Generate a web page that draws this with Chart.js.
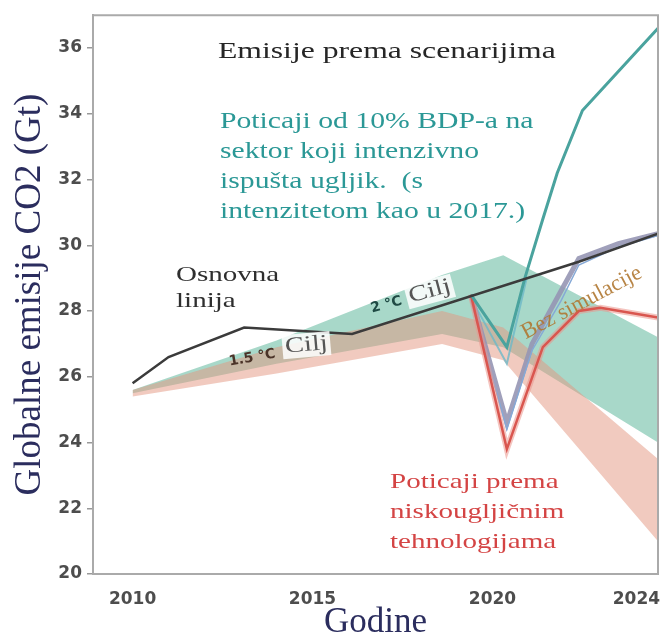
<!DOCTYPE html>
<html>
<head>
<meta charset="utf-8">
<script src="https://cdn.jsdelivr.net/npm/chart.js@4.4.1/dist/chart.umd.min.js"></script>
<style>
  html, body { margin: 0; padding: 0; background: #fff; }
  #wrap { width: 671px; height: 640px; }
</style>
</head>
<body>
<div id="wrap"><canvas id="chart"></canvas></div>
<script>
// vrijednosti (Gt CO2) procitane sa slike
var baseYears = [2010, 2011, 2013.1, 2016.1, 2022.4, 2024.6];
var baseVals = [25.8, 26.6, 27.5, 27.3, 29.5, 30.35];

var tealYears = [2019.4, 2020.4, 2020.9, 2021.4, 2021.8, 2022.5, 2024.6];
var tealVals = [28.5, 26.9, 29.0, 30.8, 32.2, 34.1, 36.6];
var tealLightYears = [2019.4, 2020.4, 2020.95];
var tealLightVals = [28.4, 26.4, 29.0];

var greyYears = [2019.4, 2020.4, 2021.1, 2021.9, 2022.4, 2023.5, 2024.6];
var greyVals = [28.5, 24.6, 27.0, 28.6, 29.6, 30.05, 30.35];
var blueVals = [28.4, 24.4, 26.8, 28.3, 29.4, 29.95, 30.3];

var redYears = [2019.4, 2020.4, 2021.4, 2022.4, 2023.0, 2024.6];
var redVals = [28.5, 23.8, 26.9, 28.0, 28.1, 27.8];

var bandYears = [2010, 2014, 2018.6, 2020.3, 2024.6];
var twoUpper = [25.6, 27.1, 29.1, 29.7, 27.2];
var twoLower = [25.5, 26.4, 27.3, 26.9, 24.0];
var onefiveUpper = [25.6, 26.9, 28.0, 27.5, 23.5];
var onefiveLower = [25.4, 26.1, 27.0, 26.5, 21.0];

var xTicks = [2010, 2015, 2020, 2024];
var yTicks = [20, 22, 24, 26, 28, 30, 32, 34, 36];

function pts(years, vals) {
    return years.map(function (y, i) { return {x: y, y: vals[i]}; });
}

var SERIF = '"Liberation Serif", "Times New Roman", serif';
var SX = 1.32;

function txt(ctx, s, x, y, o) {
    ctx.save();
    ctx.translate(x, y);
    ctx.rotate((o.rot || 0) * Math.PI / 180);
    ctx.scale(o.sx || 1, 1);
    ctx.font = o.font;
    ctx.textAlign = 'left';
    ctx.textBaseline = o.base || 'alphabetic';
    if (o.box) {
        var w = ctx.measureText(s).width;
        ctx.fillStyle = o.box;
        ctx.fillRect(-2, -o.h / 2, w + 4, o.h);
    }
    ctx.fillStyle = o.color;
    ctx.fillText(s, 0, 0);
    ctx.restore();
}

var notes = {
    id: 'notes',
    afterDatasetsDraw: function (chart) {
        var ctx = chart.ctx, a = chart.chartArea;
        // okvir
        ctx.save();
        ctx.strokeStyle = '#aaa';
        ctx.lineWidth = 2;
        ctx.beginPath();
        ctx.moveTo(a.left, a.top);
        ctx.lineTo(a.right, a.top);
        ctx.lineTo(a.right, a.bottom);
        ctx.stroke();
        ctx.restore();

        var f22 = '22px ' + SERIF;
        txt(ctx, 'Emisije prema scenarijima', 218, 58, {font: '24px ' + SERIF, color: '#262626', sx: SX});

        var teal = '#2b9896';
        txt(ctx, 'Poticaji od 10% BDP-a na', 220, 128, {font: '22.5px ' + SERIF, color: teal, sx: SX});
        txt(ctx, 'sektor koji intenzivno', 220, 158, {font: '22.5px ' + SERIF, color: teal, sx: SX});
        txt(ctx, 'ispušta ugljik.  (s', 220, 188, {font: '22.5px ' + SERIF, color: teal, sx: SX});
        txt(ctx, 'intenzitetom kao u 2017.)', 220, 218, {font: '22.5px ' + SERIF, color: teal, sx: SX});

        txt(ctx, 'Osnovna', 176, 281, {font: f22, color: '#2e2e2e', sx: SX});
        txt(ctx, 'linija', 176, 307, {font: f22, color: '#2e2e2e', sx: SX});

        var red = '#d44444';
        txt(ctx, 'Poticaji prema', 390, 488, {font: f22, color: red, sx: SX});
        txt(ctx, 'niskougljičnim', 390, 518, {font: f22, color: red, sx: SX});
        txt(ctx, 'tehnologijama', 390, 548, {font: f22, color: red, sx: SX});

        txt(ctx, '2 °C', 371, 309, {font: 'bold 14px "DejaVu Sans"', color: '#1f4a44', rot: -15, base: 'middle'});
        txt(ctx, 'Cilj', 409, 297, {font: '22px ' + SERIF, color: '#555', rot: -15, base: 'middle', sx: 1.3,
            box: 'rgba(255,255,255,0.85)', h: 24});
        txt(ctx, '1.5 °C', 229, 362, {font: 'bold 14px "DejaVu Sans"', color: '#4a3328', rot: -10, base: 'middle'});
        txt(ctx, 'Cilj', 285, 347, {font: '22px ' + SERIF, color: '#555', rot: -5, base: 'middle', sx: 1.3,
            box: 'rgba(255,255,255,0.85)', h: 24});

        txt(ctx, 'Bez simulacije', 523, 334, {font: '22.5px ' + SERIF, color: 'rgba(176,120,50,0.9)', rot: -28, base: 'middle'});
    }
};

var none = 'rgba(0,0,0,0)';
var tickFont = {family: 'DejaVu Sans', weight: 'bold', size: 17};

new Chart(document.getElementById('chart'), {
    type: 'line',
    data: {
        datasets: [
            {label: 'Osnovna linija', data: pts(baseYears, baseVals), borderColor: '#3b3b3b', borderWidth: 2.5},
            {label: 'Visokougljicni poticaji', data: pts(tealYears, tealVals), borderColor: '#4aa39e', borderWidth: 3},
            {label: 'Niskougljicni poticaji', data: pts(redYears, redVals), borderColor: '#d9564f', borderWidth: 2.5},
            {label: 'halo', data: pts(redYears, redVals), borderColor: 'rgba(235,150,140,0.55)', borderWidth: 6},
            {label: 'plava', data: pts(greyYears, blueVals), borderColor: '#86a9d6', borderWidth: 1.5},
            {label: 'siva', data: pts(greyYears, greyVals), borderColor: 'rgba(150,150,180,0.9)', borderWidth: 5},
            {label: 'svijetla', data: pts(tealLightYears, tealLightVals), borderColor: 'rgba(110,185,200,0.8)', borderWidth: 2},
            {label: '1.5 °C gornja', data: pts(bandYears, onefiveUpper), borderColor: none, borderWidth: 0,
                fill: '+1', backgroundColor: 'rgba(228,150,128,0.5)'},
            {label: '1.5 °C donja', data: pts(bandYears, onefiveLower), borderColor: none, borderWidth: 0},
            {label: '2 °C gornja', data: pts(bandYears, twoUpper), borderColor: none, borderWidth: 0,
                fill: '+1', backgroundColor: 'rgba(110,190,165,0.6)'},
            {label: '2 °C donja', data: pts(bandYears, twoLower), borderColor: none, borderWidth: 0}
        ]
    },
    options: {
        responsive: true,
        maintainAspectRatio: false,
        animation: false,
        layout: {padding: {top: 13, right: 13, left: 0, bottom: 0}},
        elements: {point: {radius: 0}, line: {tension: 0, fill: false}},
        plugins: {legend: {display: false}, tooltip: {enabled: false}},
        scales: {
            x: {
                type: 'linear',
                min: 2008.9,
                max: 2024.6,
                afterBuildTicks: function (s) { s.ticks = xTicks.map(function (v) { return {value: v}; }); },
                afterFit: function (s) { s.height = 66; },
                grid: {display: false},
                border: {display: true, color: '#aaa', width: 2},
                ticks: {
                    autoSkip: false, maxRotation: 0, padding: 7, color: '#4d4d4d', font: tickFont,
                    callback: function (v) { return String(v); }
                },
                title: {display: true, text: 'Godine', color: '#2b2d5e', padding: 0,
                    font: {family: 'Liberation Serif', size: 35, lineHeight: 1}}
            },
            y: {
                min: 20,
                max: 37,
                afterBuildTicks: function (s) { s.ticks = yTicks.map(function (v) { return {value: v}; }); },
                afterFit: function (s) { s.width = 93; },
                grid: {drawOnChartArea: false, tickLength: 6, color: '#999', lineWidth: 1.5},
                border: {display: true, color: '#aaa', width: 2},
                ticks: {padding: 5, color: '#4d4d4d', font: tickFont},
                title: {display: true, text: 'Globalne emisije CO2 (Gt)', color: '#2b2d5e', padding: {top: 12, bottom: 0},
                    font: {family: 'Liberation Serif', size: 37, lineHeight: 1}}
            }
        }
    },
    plugins: [notes]
});
</script>
</body>
</html>
